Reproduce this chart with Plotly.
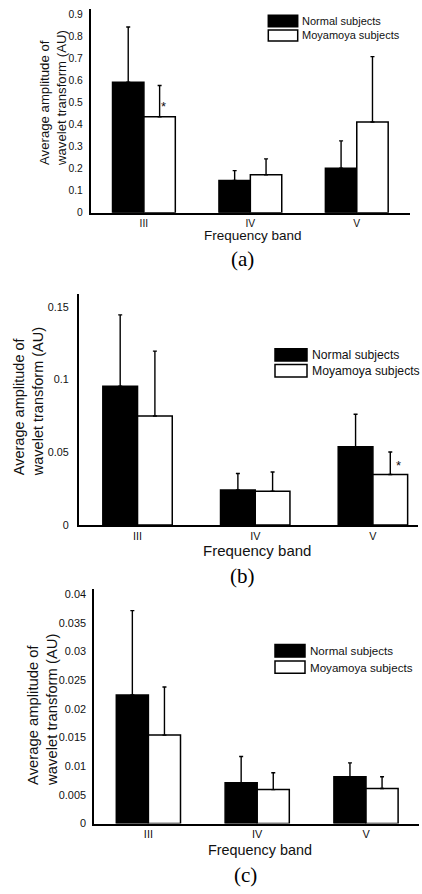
import plotly.graph_objects as go

W, H = 422, 894

# ---------------- data ----------------
categories = ["III", "IV", "V"]
series_names = ["Normal subjects", "Moyamoya subjects"]

a_normal = [0.594, 0.147, 0.203]
a_normal_err = [0.251, 0.045, 0.124]
a_moya = [0.437, 0.173, 0.413]
a_moya_err = [0.142, 0.072, 0.297]
a_sig = [True, False, False]

b_normal = [0.0954, 0.0241, 0.0538]
b_normal_err = [0.0490, 0.0113, 0.0223]
b_moya = [0.0749, 0.0232, 0.0347]
b_moya_err = [0.0446, 0.0132, 0.0155]
b_sig = [False, False, True]

c_normal = [0.0224, 0.00713, 0.00817]
c_normal_err = [0.0147, 0.00456, 0.00241]
c_moya = [0.01542, 0.00592, 0.0061]
c_moya_err = [0.00838, 0.00294, 0.00207]
c_sig = [False, False, False]

a_ticks = [0, 0.1, 0.2, 0.3, 0.4, 0.5, 0.6, 0.7, 0.8, 0.9]
a_ticktext = ["0", "0.1", "0.2", "0.3", "0.4", "0.5", "0.6", "0.7", "0.8", "0.9"]
b_ticks = [0, 0.05, 0.1, 0.15]
b_ticktext = ["0", "0.05", "0.1", "0.15"]
c_ticks = [0, 0.005, 0.01, 0.015, 0.02, 0.025, 0.03, 0.035, 0.04]
c_ticktext = ["0", "0.005", "0.01", "0.015", "0.02", "0.025", "0.03", "0.035", "0.04"]

y_title = "Average amplitude of<br>wavelet transform (AU)"
x_title = "Frequency band"
captions = ["(a)", "(b)", "(c)"]

# ---------------- helpers ----------------
def PX(p):
    return p / W

def PY(p):
    return 1 - p / H

SANS = "Arial, Liberation Sans, sans-serif"
SERIF = "Times New Roman, Liberation Serif, serif"
BARGAP = 0.41

panels = [
    dict(normal=a_normal, nerr=a_normal_err, moya=a_moya, merr=a_moya_err, sig=a_sig,
         ticks=a_ticks, ticktext=a_ticktext,
         xdom=(90.7, 410), xr=(-0.5, 2.5), ydom=(212.7, 7), yr=(0, 0.927),
         tickfs=10.3, standoff=4,
         ytl=dict(x=53.5, y=168, fs=13.2),
         xtl=dict(x=252.5, y=235.5, fs=13.5),
         cap=dict(x=242.5, y=259, fs=21),
         leg=dict(x0=268.3, x1=297.7, yb=(13.3, 25), yw=(28.3, 39.3), tx=299.5, fs=11),
         star=dict(dx=4.3, dy=10)),
    dict(normal=b_normal, nerr=b_normal_err, moya=b_moya, merr=b_moya_err, sig=b_sig,
         ticks=b_ticks, ticktext=b_ticktext,
         xdom=(78.7, 418), xr=(-0.5, 2.383), ydom=(527.7, 295), yr=(0, 0.1585),
         tickfs=10.8, standoff=6,
         ytl=dict(x=28, y=481, fs=14.5),
         xtl=dict(x=257, y=553.5, fs=15),
         cap=dict(x=242.5, y=579.5, fs=21),
         leg=dict(x0=275, x1=307, yb=(350, 362.3), yw=(365.7, 378.3), tx=310, fs=12.2),
         star=dict(dx=8.2, dy=9)),
    dict(normal=c_normal, nerr=c_normal_err, moya=c_moya, merr=c_moya_err, sig=c_sig,
         ticks=c_ticks, ticktext=c_ticktext,
         xdom=(94, 419), xr=(-0.5, 2.487), ydom=(829, 592.7), yr=(0, 0.0408),
         tickfs=10.9, standoff=4,
         ytl=dict(x=43, y=793, fs=14.8),
         xtl=dict(x=259.5, y=855.7, fs=14.4),
         cap=dict(x=245, y=880.5, fs=21),
         leg=dict(x0=275, x1=305, yb=(648.3, 661), yw=(665, 677.3), tx=307.8, fs=11.6),
         star=dict(dx=6, dy=10)),
]

fig = go.Figure()
annotations = []
shapes = []

for i, p in enumerate(panels, start=1):
    sfx = "" if i == 1 else str(i)
    xa, ya = "x" + sfx, "y" + sfx
    for vals, errs, fill, name in [(p["normal"], p["nerr"], "black", series_names[0]),
                                   (p["moya"], p["merr"], "white", series_names[1])]:
        fig.add_trace(go.Bar(
            x=categories, y=vals, name=name, xaxis=xa, yaxis=ya,
            marker=dict(color=fill, line=dict(color="black", width=1.5)),
            error_y=dict(type="data", symmetric=False, array=errs,
                         arrayminus=[0] * len(errs), color="black",
                         thickness=1.4, width=2),
            showlegend=False, hoverinfo="skip",
        ))

    fig.layout["xaxis" + sfx] = dict(
        domain=[PX(p["xdom"][0]), PX(p["xdom"][1])], range=list(p["xr"]),
        anchor=ya, type="category", showline=True, linecolor="black", linewidth=1.6,
        showgrid=False, zeroline=False, ticks="", fixedrange=True,
        tickfont=dict(family=SANS, size=p["tickfs"], color="#111"),
    )
    fig.layout["yaxis" + sfx] = dict(
        domain=[PY(p["ydom"][0]), PY(p["ydom"][1])], range=list(p["yr"]),
        anchor=xa, showline=True, linecolor="black", linewidth=1.6,
        showgrid=False, zeroline=False, ticks="", fixedrange=True,
        tickvals=p["ticks"], ticktext=p["ticktext"], ticklabelstandoff=p["standoff"],
        tickfont=dict(family=SANS, size=p["tickfs"], color="#111"),
    )

    # y-axis title (two lines, start-aligned)
    annotations.append(dict(
        text=y_title, xref="paper", yref="paper", x=PX(p["ytl"]["x"]), y=PY(p["ytl"]["y"]),
        xanchor="center", yanchor="bottom", textangle=-90, align="left", showarrow=False,
        font=dict(family=SANS, size=p["ytl"]["fs"], color="#111"),
    ))
    # x-axis title
    annotations.append(dict(
        text=x_title, xref="paper", yref="paper", x=PX(p["xtl"]["x"]), y=PY(p["xtl"]["y"]),
        xanchor="center", yanchor="middle", showarrow=False,
        font=dict(family=SANS, size=p["xtl"]["fs"], color="#111"),
    ))
    # caption
    annotations.append(dict(
        text=captions[i - 1], xref="paper", yref="paper", x=PX(p["cap"]["x"]), y=PY(p["cap"]["y"]),
        xanchor="center", yanchor="middle", showarrow=False,
        font=dict(family=SERIF, size=p["cap"]["fs"], color="black"),
    ))
    # legend
    lg = p["leg"]
    for (y0, y1), fill, name in [(lg["yb"], "black", series_names[0]),
                                 (lg["yw"], "white", series_names[1])]:
        shapes.append(dict(type="rect", xref="paper", yref="paper",
                           x0=PX(lg["x0"]), x1=PX(lg["x1"]), y0=PY(y1), y1=PY(y0),
                           fillcolor=fill, line=dict(color="black", width=1.5)))
        annotations.append(dict(
            text=name, xref="paper", yref="paper", x=PX(lg["tx"]), y=PY((y0 + y1) / 2),
            xanchor="left", yanchor="middle", showarrow=False,
            font=dict(family=SANS, size=lg["fs"], color="#111"),
        ))
    # significance asterisks
    half = (1 - BARGAP) / 4
    for k, s in enumerate(p["sig"]):
        if s:
            annotations.append(dict(
                text="*", xref=xa, yref=ya, x=k + half, y=p["moya"][k],
                xanchor="center", yanchor="middle", showarrow=False,
                xshift=p["star"]["dx"], yshift=p["star"]["dy"],
                font=dict(family=SANS, size=13, color="#111"),
            ))

fig.update_layout(
    barmode="group", bargap=BARGAP, bargroupgap=0,
    width=W, height=H, margin=dict(l=0, r=0, t=0, b=0),
    plot_bgcolor="white", paper_bgcolor="white",
    showlegend=False, annotations=annotations, shapes=shapes,
)

fig.write_html(
    "out.html",
    config={"displayModeBar": False},
    post_script="document.body.style.margin='0';document.body.style.overflow='hidden';",
)
